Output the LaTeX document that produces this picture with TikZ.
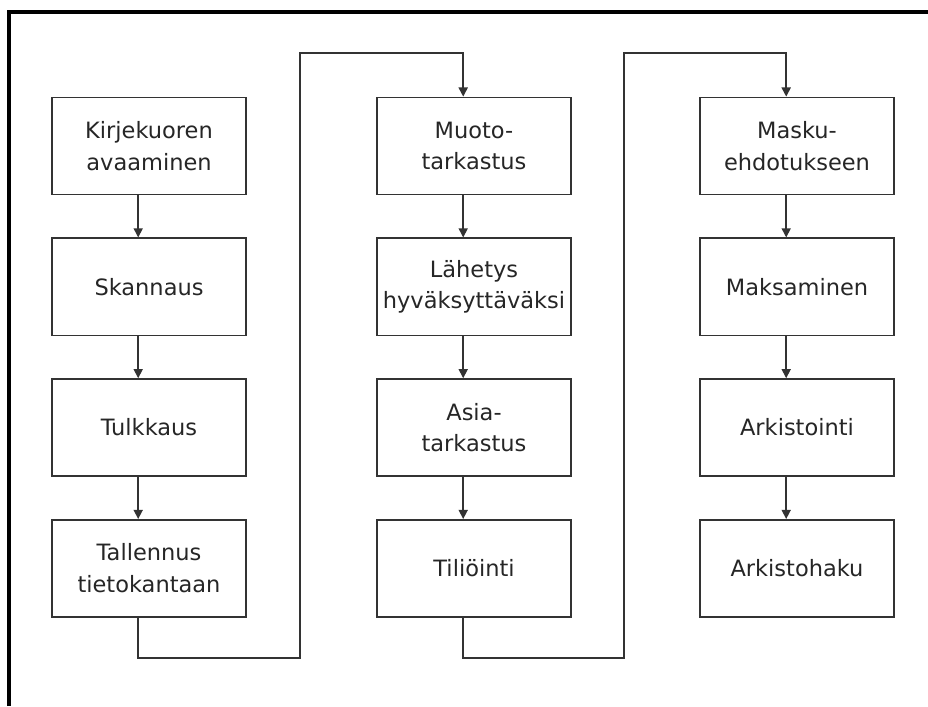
\documentclass[tikz,border=0pt]{standalone}
\usepackage{fontspec}
\setmainfont{DejaVu Sans}
\usetikzlibrary{positioning,arrows.meta}

\begin{document}
\begin{tikzpicture}[x=0.025cm,y=-0.025cm,
  laatikko/.style={draw=black!80,line width=1.1pt,minimum width=4.85cm,minimum height=2.43cm,
    inner sep=1pt,align=center,text=black!85,font=\fontsize{16}{22.5}\selectfont},
  nuoli/.style={draw=black!80,line width=1.1pt,-{Triangle[width=6.5pt,length=6.5pt]}},
  node distance=1.05cm]
  \useasboundingbox (0,0) rectangle (928,706);
  % Kehys: vain ylä- ja vasen reuna näkyvät kuvassa.
  \draw[line width=2.2pt] (9,706) -- (9,12) -- (928,12);
  % Kolme saraketta, kussakin neljä vaihetta allekkain.
  \node[laatikko] (kirje) at (149,146) {Kirjekuoren\\avaaminen};
  \node[laatikko,below=of kirje] (skan) {Skannaus};
  \node[laatikko,below=of skan] (tulk) {Tulkkaus};
  \node[laatikko,below=of tulk] (tall) {Tallennus\\tietokantaan};
  \node[laatikko] (muoto) at (474,146) {Muoto-\\tarkastus};
  \node[laatikko,below=of muoto] (lahe) {Lähetys\\hyväksyttäväksi};
  \node[laatikko,below=of lahe] (asia) {Asia-\\tarkastus};
  \node[laatikko,below=of asia] (tili) {Tiliöinti};
  \node[laatikko] (masku) at (797,146) {Masku-\\ehdotukseen};
  \node[laatikko,below=of masku] (maks) {Maksaminen};
  \node[laatikko,below=of maks] (arki) {Arkistointi};
  \node[laatikko,below=of arki] (haku) {Arkistohaku};
  % Nuolet sarakkeen sisällä hieman keskilinjasta vasemmalle.
  \foreach \a/\b in {kirje/skan,skan/tulk,tulk/tall,muoto/lahe,lahe/asia,asia/tili,
    masku/maks,maks/arki,arki/haku}{
    \draw[nuoli] ([xshift=-0.27cm]\a.south) -- ([xshift=-0.27cm]\b.north);
  }
  % Siirtymät sarakkeesta seuraavaan kiertävät ylhäältä.
  \coordinate (ala1) at (300,658);
  \coordinate (yla1) at (300,53);
  \coordinate (ala2) at (624,658);
  \coordinate (yla2) at (624,53);
  \draw[nuoli] ([xshift=-0.27cm]tall.south) |- (ala1) -- (yla1) -| ([xshift=-0.27cm]muoto.north);
  \draw[nuoli] ([xshift=-0.27cm]tili.south) |- (ala2) -- (yla2) -| ([xshift=-0.27cm]masku.north);
\end{tikzpicture}
\end{document}
